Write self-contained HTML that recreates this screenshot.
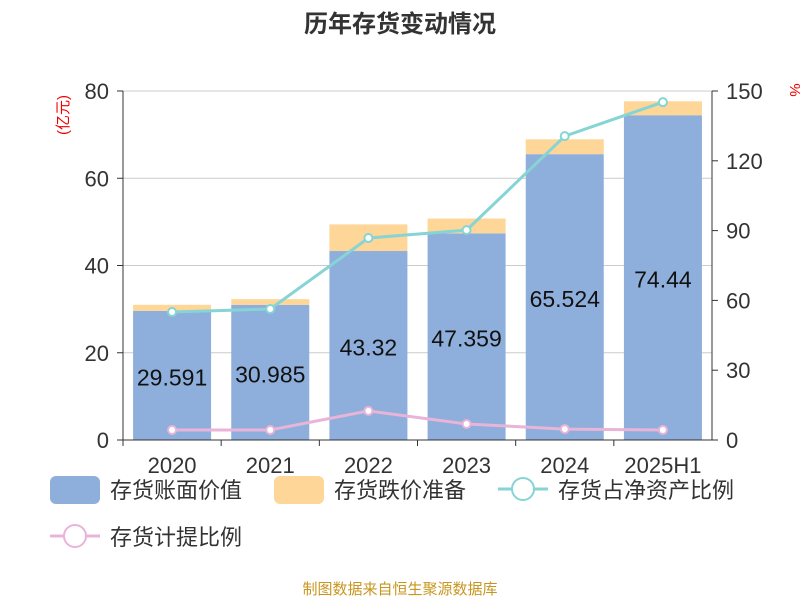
<!DOCTYPE html>
<html><head><meta charset="utf-8"><style>
body{margin:0;background:#fff;font-family:"Liberation Sans","Noto Sans CJK SC",sans-serif}
</style></head><body>
<svg width="800" height="600" xmlns="http://www.w3.org/2000/svg" font-family="Liberation Sans, Noto Sans CJK SC, sans-serif">
<text x="400" y="32" text-anchor="middle" font-size="24" font-weight="bold" fill="#333">历年存货变动情况</text>
<text x="68" y="115" transform="rotate(-90 68 115)" text-anchor="middle" font-size="15" fill="#e00">(亿元)</text>
<text x="790" y="90" transform="rotate(90 790 90)" text-anchor="middle" font-size="15" fill="#e00">%</text>
<g id="grid"></g><g id="bars"></g><g id="lines"></g><g id="axes"></g>
<g font-size="22" fill="#333">
<rect x="50" y="476" width="50" height="28" rx="6" fill="#8eaedb"/>
<text x="110" y="498">存货账面价值</text>
<rect x="274" y="476" width="50" height="28" rx="6" fill="#fdd698"/>
<text x="334" y="498">存货跌价准备</text>
<line x1="498" y1="489" x2="548" y2="489" stroke="#86d4d4" stroke-width="3"/>
<circle cx="523" cy="489" r="11" fill="#fff" stroke="#86d4d4" stroke-width="2"/>
<text x="558" y="498">存货占净资产比例</text>
<line x1="50" y1="536" x2="100" y2="536" stroke="#e8b4d8" stroke-width="3"/>
<circle cx="75" cy="536" r="11" fill="#fff" stroke="#e8b4d8" stroke-width="2"/>
<text x="110" y="545">存货计提比例</text>
</g>
<text x="400" y="594" text-anchor="middle" font-size="15" fill="#c8961e">制图数据来自恒生聚源数据库</text>
</svg>
<script>
const categories=["2020","2021","2022","2023","2024","2025H1"];
const bookValue=[29.591,30.985,43.32,47.359,65.524,74.44];
const reserve=[1.4,1.3,6.1,3.4,3.4,3.2];
const netAssetRatio=[55,56.3,86.8,90.2,130.6,145.2];
const provisionRatio=[4.3,4.3,12.5,6.9,4.7,4.3];
const leftTicks=[0,20,40,60,80];
const rightTicks=[0,30,60,90,120,150];
const NS="http://www.w3.org/2000/svg";
const x0=123,x1=712,yTop=91,yBot=440;
const bw=(x1-x0)/categories.length;
const yL=v=>yBot-v/80*(yBot-yTop);
const yR=v=>yBot-v/150*(yBot-yTop);
const xC=i=>x0+bw*(i+0.5);
function mk(tag,attrs,parent,txt){const e=document.createElementNS(NS,tag);for(const k in attrs)e.setAttribute(k,attrs[k]);if(txt!==undefined)e.textContent=txt;document.getElementById(parent).appendChild(e);return e;}
leftTicks.forEach(t=>{
 if(t>0){const g=mk('line',{x1:x0,x2:x1,y1:yL(t),y2:yL(t),stroke:'#ccc','stroke-width':1},'grid');
 
 }
 const l=mk('text',{x:x0-14,y:yL(t)+8,'text-anchor':'end','font-size':22,fill:'#333'},'axes',String(t));
 
 
 mk('line',{x1:x0-6,x2:x0,y1:yL(t),y2:yL(t),stroke:'#333'},'axes');
});
rightTicks.forEach(t=>{
 const l=mk('text',{x:x1+14,y:yR(t)+8,'font-size':22,fill:'#333'},'axes',String(t));
 
 
 mk('line',{x1:x1,x2:x1+6,y1:yR(t),y2:yR(t),stroke:'#333'},'axes');
});
mk('line',{x1:x0,x2:x0,y1:yTop,y2:yBot,stroke:'#333'},'axes');
mk('line',{x1:x1,x2:x1,y1:yTop,y2:yBot,stroke:'#333'},'axes');
mk('line',{x1:x0,x2:x1,y1:yBot,y2:yBot,stroke:'#333'},'axes');
categories.forEach((c,i)=>{
 mk('line',{x1:x0+bw*i,x2:x0+bw*i,y1:yBot,y2:yBot+6,stroke:'#333'},'axes');
 const l=mk('text',{x:xC(i),y:yBot+33,'text-anchor':'middle','font-size':22,fill:'#333'},'axes',c);
 
 
 const w=78,bx=xC(i)-w/2;
 const b=mk('rect',{x:bx,y:yL(bookValue[i]),width:w,height:yBot-yL(bookValue[i]),fill:'#8eaedb'},'bars');
 
 
 const r=mk('rect',{x:bx,y:yL(bookValue[i]+reserve[i]),width:w,height:yL(bookValue[i])-yL(bookValue[i]+reserve[i]),fill:'#fdd698'},'bars');
 
 
 const v=mk('text',{x:xC(i),y:(yL(bookValue[i])+yBot)/2+10,'text-anchor':'middle','font-size':23,fill:'#111'},'bars',String(bookValue[i]));
 
 
});
[[netAssetRatio,'#86d4d4','net-asset-ratio'],[provisionRatio,'#e8b4d8','provision-ratio']].forEach(([d,col,n])=>{
 const p=mk('polyline',{points:d.map((v,i)=>xC(i)+','+yR(v)).join(' '),fill:'none',stroke:col,'stroke-width':3},'lines');
 
 
 d.forEach((v,i)=>{const c=mk('circle',{cx:xC(i),cy:yR(v),r:4,fill:'#fff',stroke:col,'stroke-width':2},'lines');
 
 });
});
</script>
</body></html>
